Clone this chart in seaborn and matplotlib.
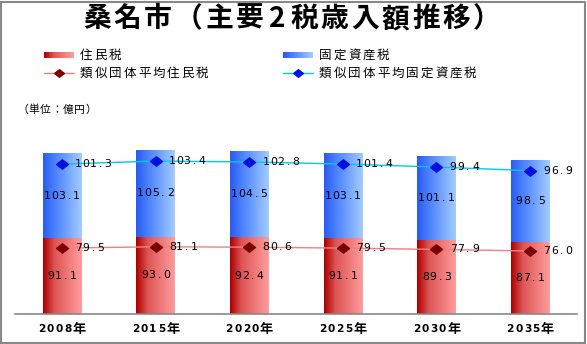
import numpy as np
import pandas as pd
import matplotlib
matplotlib.use("Agg")
import matplotlib.pyplot as plt
import seaborn as sns
from matplotlib.colors import LinearSegmentedColormap
from matplotlib.lines import Line2D
from matplotlib.patches import Rectangle
from matplotlib.transforms import offset_copy

sns.set_theme(style="white")
plt.rcParams['font.family'] = ['Noto Sans CJK JP', 'DejaVu Sans']

years = ["2008年", "2015年", "2020年", "2025年", "2030年", "2035年"]
resident_tax = [91.1, 93.0, 92.4, 91.1, 89.3, 87.1]
property_tax = [103.1, 105.2, 104.5, 103.1, 101.1, 98.5]
avg_resident = [79.5, 81.1, 80.6, 79.5, 77.9, 76.0]
avg_property = [101.3, 103.4, 102.8, 101.4, 99.4, 96.9]

df = pd.DataFrame({
    "year": years,
    "resident": resident_tax,
    "property": property_tax,
    "avg_resident": avg_resident,
    "avg_property": avg_property,
})
df["total"] = df["resident"] + df["property"]
df["avg_total"] = df["avg_resident"] + df["avg_property"]
df["pos"] = np.arange(len(df))

red_cmap = LinearSegmentedColormap.from_list(
    "red_grad", [(0, "#b00000"), (0.3, "#dd5555"), (1, "#ff9c9c")])
blue_cmap = LinearSegmentedColormap.from_list(
    "blue_grad", [(0, "#2a5cf0"), (0.3, "#4a80ff"), (1, "#a2ccff")])

W, H = 587, 344
fig = plt.figure(figsize=(W / 100, H / 100), dpi=100)
ax = fig.add_axes([15 / W, 30 / H, 562 / W, 200 / H])


def spaced_text(target, x, y, s, transform, half, full, fs_half, fs_full,
                ha="center", dx=0.0, **kw):
    """Write s one character at a time with a fixed pitch (in pixels)."""
    widths = [half if ord(c) < 0x2E80 else full for c in s]
    cur = -sum(widths) / 2 if ha == "center" else 0.0
    cur += dx
    for c, w in zip(s, widths):
        tr = offset_copy(transform, fig=fig, x=cur + w / 2, y=0, units="dots")
        fs = fs_half if ord(c) < 0x2E80 else fs_full
        target.text(x, y, c, transform=tr, ha="center", va="center",
                    fontsize=fs, **kw)
        cur += w


# stacked bars: full height in blue, resident portion in red on top
sns.barplot(data=df, x="year", y="total", color="#6699ff", width=0.41,
            ax=ax, saturation=1, linewidth=0)
n_blue = len(ax.patches)
sns.barplot(data=df, x="year", y="resident", color="#ee6666", width=0.41,
            ax=ax, saturation=1, linewidth=0)

ymax = 200 / 0.829
grad = np.linspace(0, 1, 64).reshape(1, -1)
for i, p in enumerate(ax.patches):
    cmap = blue_cmap if i < n_blue else red_cmap
    x0, y0 = p.get_x(), p.get_y()
    w, h = p.get_width(), p.get_height()
    im = ax.imshow(grad, cmap=cmap, aspect="auto",
                   extent=[x0, x0 + w, y0, y0 + h], zorder=p.get_zorder() + 0.1)
    im.set_clip_path(p)
ax.set_ylim(0, ymax)
ax.set_xlim(-0.5, len(df) - 0.5)

diamond = [(-1, 0), (0, 0.78), (1, 0), (0, -0.78), (-1, 0)]

# average lines, stacked the same way as the bars
sns.lineplot(data=df, x="pos", y="avg_resident", ax=ax, color="#f08080",
             linewidth=1, marker=diamond, markersize=9, markerfacecolor="#7a0000",
             markeredgecolor="#7a0000", zorder=5)
sns.lineplot(data=df, x="pos", y="avg_total", ax=ax, color="#00c8f0",
             linewidth=1, marker=diamond, markersize=9, markerfacecolor="#0010e0",
             markeredgecolor="#0010e0", zorder=5)

num_kw = dict(half=7.4, full=12, fs_half=7.8, fs_full=9, color="black",
              family=["DejaVu Sans"], zorder=6)
for _, r in df.iterrows():
    spaced_text(ax, r.pos, r.resident / 2, f"{r.resident:.1f}", ax.transData, **num_kw)
    spaced_text(ax, r.pos, r.resident + r.property / 2, f"{r.property:.1f}",
                ax.transData, **num_kw)
    spaced_text(ax, r.pos, r.avg_resident, f"{r.avg_resident:.1f}", ax.transData,
                ha="left", dx=13, **num_kw)
    spaced_text(ax, r.pos, r.avg_total, f"{r.avg_property:.1f}", ax.transData,
                ha="left", dx=13, **num_kw)

# category labels below the baseline
tick_tr = ax.get_xaxis_transform()
for _, r in df.iterrows():
    spaced_text(ax, r.pos, -15 / 200, r.year, tick_tr, half=8.7, full=14,
                fs_half=7.6, fs_full=9.5, fontweight="bold", color="black",
                family=["DejaVu Sans", "Noto Sans CJK JP"])

ax.set_xlabel("")
ax.set_ylabel("")
ax.set_yticks([])
ax.set_xticks([])
for s in ["left", "right", "top"]:
    ax.spines[s].set_visible(False)
ax.spines["bottom"].set_color("#888888")
ax.spines["bottom"].set_linewidth(1.2)
ax.set_facecolor("none")
ax.grid(False)

pix = fig.transFigure


def fy(ypx):
    return 1 - ypx / H


spaced_text(fig, 292 / W, fy(19), "桑名市（主要2税歳入額推移）", pix,
            half=24, full=30.5, fs_half=20, fs_full=20, fontweight="bold",
            color="black", family=["Noto Sans CJK JP"])
spaced_text(fig, 17 / W, fy(110), "（単位：億円）", pix, half=6, full=11.4,
            fs_half=7.5, fs_full=7.8, ha="left", color="black")

# legend, laid out by hand in two columns
leg_text = dict(half=7, full=14.5, fs_half=9, fs_full=9, ha="left", color="black")


def gradient_key(x0, yc, cmap):
    n = 20
    for k in range(n):
        fig.patches.append(Rectangle(((x0 + 30 * k / n) / W, fy(yc + 2.5)), (30 / n + 0.4) / W,
                                     5 / H, transform=pix, facecolor=cmap(k / (n - 1)),
                                     edgecolor="none"))


def line_key(x0, yc, lc, mc):
    fig.lines.append(Line2D([x0 / W, (x0 + 30) / W], [fy(yc), fy(yc)], transform=pix,
                            color=lc, lw=1))
    fig.lines.append(Line2D([(x0 + 15) / W], [fy(yc)], transform=pix, marker=diamond,
                            markersize=7, color=mc, lw=0))


gradient_key(44, 55, red_cmap)
spaced_text(fig, 79 / W, fy(55), "住民税", pix, **leg_text)
line_key(44, 73, "#f08080", "#7a0000")
spaced_text(fig, 79 / W, fy(73), "類似団体平均住民税", pix, **leg_text)
gradient_key(283, 55, blue_cmap)
spaced_text(fig, 318 / W, fy(55), "固定資産税", pix, **leg_text)
line_key(283, 73, "#00c8f0", "#0010e0")
spaced_text(fig, 318 / W, fy(73), "類似団体平均固定資産税", pix, **leg_text)

fig.patches.append(Rectangle((0.5 / W, 1.5 / H), 1 - 2.5 / W, 1 - 3 / H, transform=pix,
                             fill=False, edgecolor="#888888", linewidth=1.5))

fig.savefig("out.png", dpi=100)
